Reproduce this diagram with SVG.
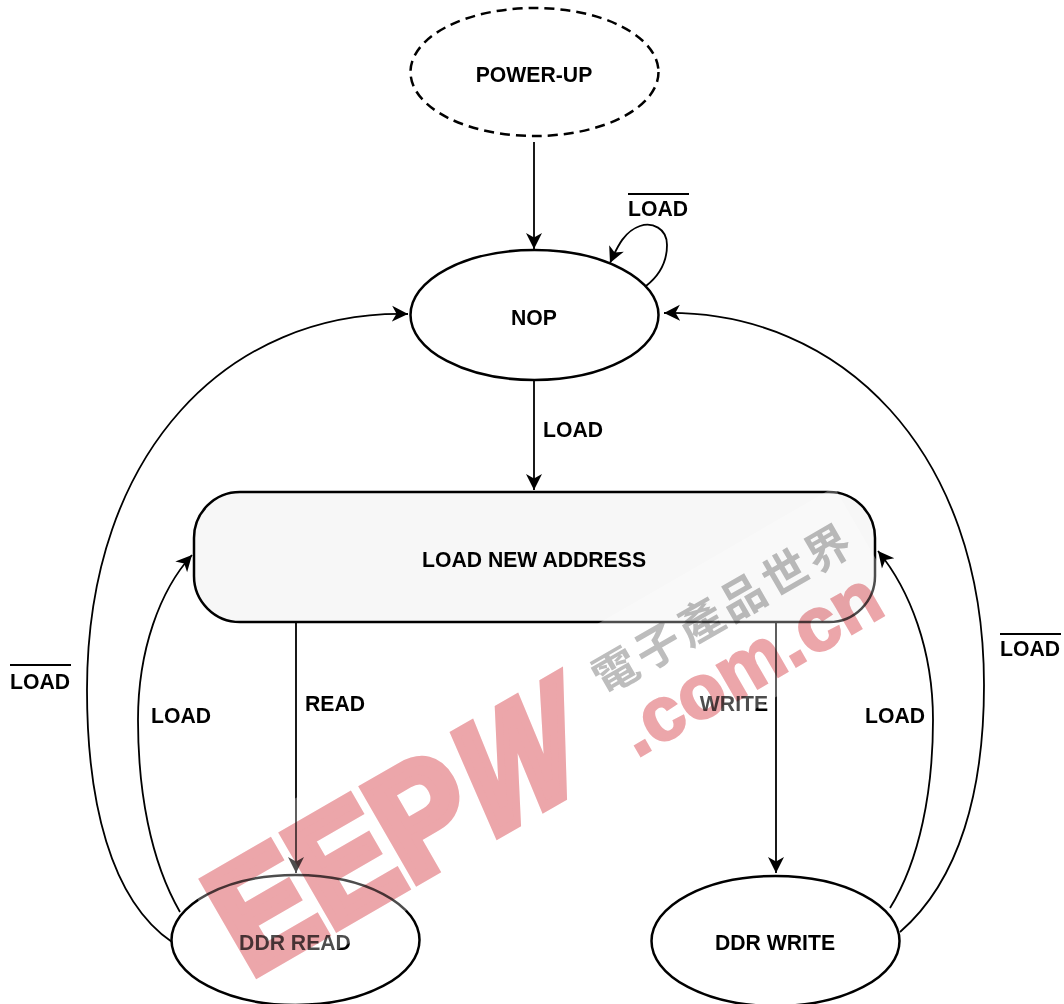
<svg xmlns="http://www.w3.org/2000/svg" width="1064" height="1004" viewBox="0 0 1064 1004">
<style>
.n{fill:#fff;stroke:#000;stroke-width:2.5}
.t{font:bold 21.2px "Liberation Sans",Arial,sans-serif;fill:#000;text-anchor:middle}
.c{fill:none;stroke:#000;stroke-width:1.8;marker-end:url(#a)}
.o{stroke:#000;stroke-width:2;fill:none}
.m{mix-blend-mode:multiply}
.w{font-family:"Liberation Sans",Arial,sans-serif;font-weight:bold;fill:#eca6aa;stroke:#eca6aa;stroke-linejoin:miter}
</style>
<defs>
<marker id="a" markerUnits="userSpaceOnUse" markerWidth="20" markerHeight="20" refX="16" refY="9" orient="auto" viewBox="0 0 20 18"><path d="M0,1 L16,9 L0,17 L4.500,9 Z" fill="#000"/></marker>
</defs>
<rect width="1064" height="1004" fill="#fff"/>
<g id="connectors">
<path class="c" d="M534,142 V249"/>
<path class="c" d="M534,381 V490"/>
<path class="c" d="M296,622 V873"/>
<path class="c" d="M776,622 V873"/>
<path class="c" d="M646,286 C660,275 667,260 667,245 C667,228 652,222 640,226 C625,231 618,245 610,263"/>
<path class="c" d="M172,942 C110,900 87,800 87,690 C87,450 230,310 408,314"/>
<path class="c" d="M180,912 C150,860 138,790 138,720 C138,650 160,590 192,555"/>
<path class="c" d="M890,908 C920,860 933,790 933,720 C933,650 910,590 878,551"/>
<path class="c" d="M900,932 C960,880 984,790 984,685 C984,450 840,310 664,313"/>
</g>
<g id="node-power-up"><ellipse cx="534.500" cy="72" rx="124" ry="64" class="n" stroke-dasharray="10 6"/><text class="t" x="534" y="82">POWER-UP</text></g>
<g id="node-nop"><ellipse cx="534.500" cy="315" rx="124" ry="65" class="n"/><text class="t" x="534" y="325">NOP</text></g>
<g id="node-load-new-address"><rect x="194" y="492" width="681" height="130" rx="46" class="n" style="fill:#f7f7f7"/><text class="t" x="534" y="567">LOAD NEW ADDRESS</text></g>
<g id="node-ddr-read"><ellipse cx="295.500" cy="940" rx="124" ry="65" class="n"/><text class="t" x="295" y="950">DDR READ</text></g>
<g id="node-ddr-write"><ellipse cx="775.500" cy="941" rx="124" ry="65" class="n"/><text class="t" x="775" y="950">DDR WRITE</text></g>
<g id="labels">
<text class="t" x="658" y="216">LOAD</text><path class="o" d="M628,194 H689"/>
<text class="t" x="573" y="437">LOAD</text>
<text class="t" x="40" y="689">LOAD</text><path class="o" d="M10,665 H71"/>
<text class="t" x="181" y="723">LOAD</text>
<text class="t" x="335" y="711">READ</text>
<text class="t" x="734" y="711">WRITE</text>
<text class="t" x="895" y="723">LOAD</text>
<text class="t" x="1030" y="656">LOAD</text><path class="o" d="M1000,634 H1061"/>
</g>
<g id="watermark" transform="rotate(-30)">
<rect x="-278.500" y="839" width="757.500" height="152.600" fill="#fff" opacity=".3"/>
<text class="w m" transform="translate(-272.500,971) scale(.9,1)" x="0" y="0" font-size="154" stroke-width="10">EEP</text>
<text class="w m" transform="translate(-8,971) skewX(-18) scale(.82,1)" x="0" y="0" font-size="156" stroke-width="10">W</text>
<text class="w m" x="172" y="975" font-size="76" stroke-width="2.500" letter-spacing=".5">.com.cn</text>
<text class="m" x="175" y="905" font-size="45" font-weight="700" fill="#bdbdbd" font-family="'Noto Sans CJK TC','Noto Sans CJK SC',sans-serif" letter-spacing="4">電子產品世界</text>
</g>
</svg>
